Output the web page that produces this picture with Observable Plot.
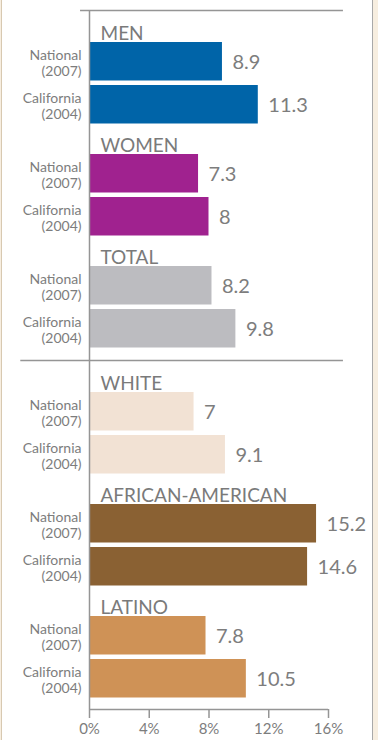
<!DOCTYPE html>
<html>
<head>
<meta charset="utf-8">
<script src="https://cdn.jsdelivr.net/npm/d3@7"></script>
<script src="https://cdn.jsdelivr.net/npm/@observablehq/plot@0.6"></script>
<style>
  html, body { margin: 0; padding: 0; background: #f7eee0; }
  #wrap { position: relative; width: 378px; height: 740px; overflow: hidden; }
  #panel { position: absolute; left: 1px; top: 0; width: 370px; height: 740px; background: #fff;
           border-left: 1px solid #d8c9b1; border-right: 1px solid #a9a9a9; }
  #chart { position: absolute; left: 0; top: 0; }
</style>
</head>
<body>
<div id="wrap"><div id="panel"></div><div id="chart"></div></div>
<script>
// ---- data ----
const groups = ["MEN", "WOMEN", "TOTAL", "WHITE", "AFRICAN-AMERICAN", "LATINO"];
const national = [8.9, 7.3, 8.2, 7, 15.2, 7.8];     // National (2007)
const california = [11.3, 8, 9.8, 9.1, 14.6, 10.5]; // California (2004)
const rowLabels = ["National\n(2007)", "California\n(2004)"];
const groupColors = ["#0064a8", "#a0228f", "#bcbcc0", "#f2e2d4", "#8a6133", "#cf9256"];
const xTicks = [0, 4, 8, 12, 16];
const sectionOf = [0, 0, 0, 1, 1, 1];

// ---- layout (units of the y scale) ----
const TOP_PAD = 7, GROUP = 112, TITLE = 25, BAR = 38.5, STEP = 43, SEP = 14, BOTTOM_PAD = 6;
const groupTop = i => TOP_PAD + i * GROUP + sectionOf[i] * SEP;
const Y_END = TOP_PAD + groups.length * GROUP + SEP + BOTTOM_PAD;
const sepY = TOP_PAD + 3 * GROUP + SEP / 2;

const rows = groups.flatMap((g, i) => [national[i], california[i]].map((v, k) => ({
  group: g, gi: i, k, label: rowLabels[k], value: v, color: groupColors[i],
  y1: groupTop(i) + TITLE + k * STEP,
  y2: groupTop(i) + TITLE + k * STEP + BAR
})));
const titles = groups.map((g, i) => ({ group: g, y: groupTop(i) + TITLE - 3 }));

const grey = "#7d7d7d";
const lineGrey = "#959595";

const chart = Plot.plot({
  width: 378,
  height: 740,
  marginLeft: 89,
  marginRight: 50,
  marginTop: 10,
  marginBottom: 31,
  style: { background: "transparent", fontFamily: "Lato, 'Noto Sans', sans-serif", color: grey },
  x: { domain: [0, 16], axis: null },
  y: { domain: [0, Y_END], range: [10, 709], axis: null },
  color: { type: "identity" },
  marks: [
    Plot.rectX(rows, { x1: 0, x2: "value", y1: "y1", y2: "y2", fill: "color" }),
    Plot.ruleY([0], { x1: -0.6, x2: 17.0, stroke: lineGrey, strokeWidth: 1.5 }),
    Plot.ruleY([sepY], { x1: -4.6, x2: 17.0, stroke: lineGrey, strokeWidth: 1.5 }),
    Plot.ruleX([0], { stroke: lineGrey, strokeWidth: 1.5 }),
    Plot.ruleY([Y_END], { x1: 0, x2: 16, stroke: lineGrey, strokeWidth: 1.5 }),
    Plot.axisX({ ticks: xTicks, tickSize: 9, tickPadding: 5, tickFormat: d => `${d}%`, label: null,
                 fontSize: 15, stroke: lineGrey, strokeWidth: 1.5, fill: grey, anchor: "bottom" }),
    Plot.text(titles, { x: 0, y: "y", text: "group", dx: 11, textAnchor: "start",
                        lineAnchor: "bottom", fontSize: 19, fill: "#7a7a7a" }),
    Plot.text(rows, { x: 0, y: d => (d.y1 + d.y2) / 2 + 1, text: "label", dx: -8, textAnchor: "end",
                      fontSize: 14, lineHeight: 1.15, fill: grey }),
    Plot.text(rows, { x: "value", y: d => (d.y1 + d.y2) / 2 + 0.5, text: d => String(d.value),
                      dx: 10, textAnchor: "start", fontSize: 20, fill: grey })
  ]
});
document.getElementById("chart").append(chart);
</script>
</body>
</html>
